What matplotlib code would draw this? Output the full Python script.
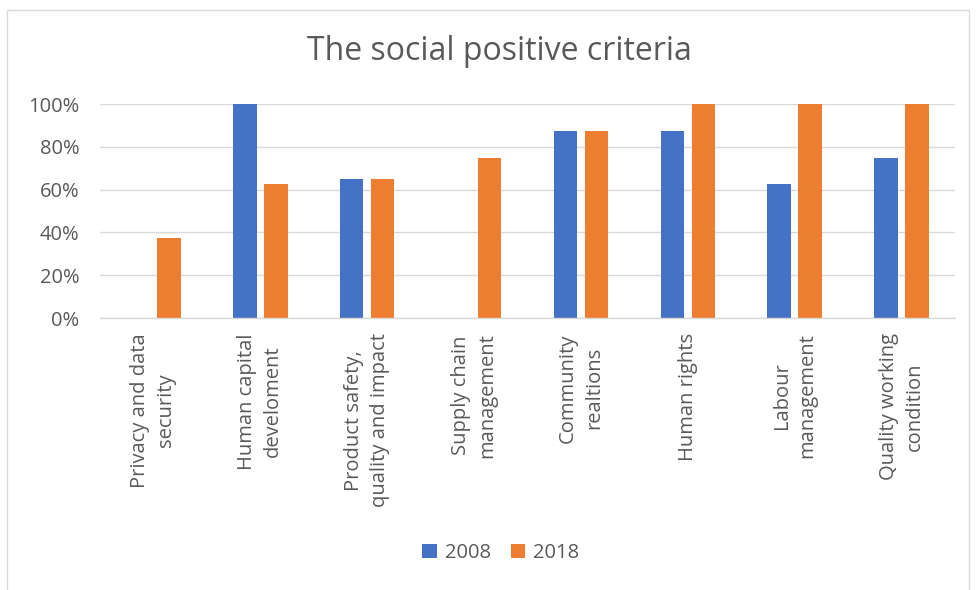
import matplotlib
matplotlib.use("Agg")
import matplotlib.pyplot as plt
import numpy as np
from matplotlib.patches import Rectangle

categories = ["Privacy and data\nsecurity", "Human capital\ndevelement".replace("develement", "develoment"),
              "Product safety,\nquality and impact", "Supply chain\nmanagement",
              "Community\nrealtions", "Human rights", "Labour\nmanagement",
              "Quality working\ncondition"]
series_names = ["2008", "2018"]
values_2008 = [0, 100, 65, 0, 87.5, 87.5, 62.5, 75]
values_2018 = [37.5, 62.5, 65, 75, 87.5, 100, 100, 100]
yticks = [0, 20, 40, 60, 80, 100]

plt.rcParams['font.family'] = ['Open Sans', 'DejaVu Sans']
TXT = '#595959'
BLUE = '#4472C4'
ORANGE = '#ED7D31'

fig = plt.figure(figsize=(9.76, 5.90), dpi=100)
ax = fig.add_axes([0.1025, 0.461, 0.876, 0.3627])

x = np.arange(len(categories))
w = 0.22
off = 0.145
ax.bar(x - off, values_2008, w, color=BLUE, label=series_names[0], zorder=3)
ax.bar(x + off, values_2018, w, color=ORANGE, label=series_names[1], zorder=3)

ax.set_xlim(-0.5, len(categories) - 0.5)
ax.set_ylim(0, 100)
ax.set_yticks(yticks)
ax.set_yticklabels([f"{v}%" for v in yticks], color=TXT, fontsize=14.5)
ax.set_xticks(x)
ax.set_xticklabels(categories, rotation=90, ha='center', va='top',
                   multialignment='center', color=TXT, fontsize=14.5,
                   linespacing=1.4)
ax.tick_params(axis='x', length=0, pad=11)
ax.tick_params(axis='y', length=0, pad=15)
ax.grid(axis='y', color='#D9D9D9', linewidth=1, zorder=0)
for s in ['top', 'right', 'left']:
    ax.spines[s].set_visible(False)
ax.spines['bottom'].set_color('#D9D9D9')
ax.spines['bottom'].set_linewidth(1)
ax.spines['bottom'].set_zorder(4)

fig.text(499/976, 1 - 51/590, "The social positive criteria", ha='center', va='center',
         fontsize=23, color=TXT)

fig.legend(loc='center', bbox_to_anchor=(0.513, 1 - 553/590), ncol=2, frameon=False,
           fontsize=14.5, labelcolor=TXT, handlelength=0.7, handleheight=0.7,
           handletextpad=0.4, columnspacing=1.0)

fig.patches.append(Rectangle((7/976, -0.05), (969-7)/976, (1 - 10/590) + 0.05,
                             transform=fig.transFigure, fill=False,
                             edgecolor='#D9D9D9', linewidth=1))

fig.savefig("out.png", dpi=100, facecolor='white')
